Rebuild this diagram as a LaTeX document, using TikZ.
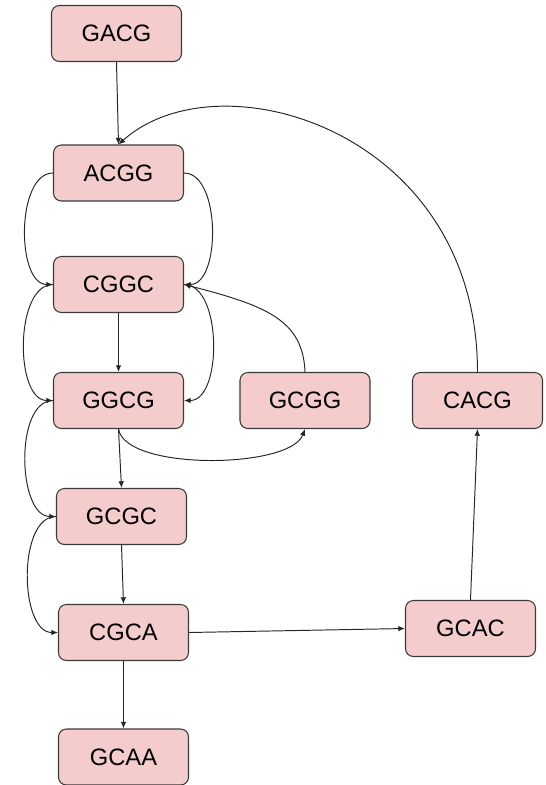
\documentclass[tikz,border=0pt]{standalone}
\usepackage{fontspec}
\setmainfont{Liberation Sans}
\usepackage{tikz}
\usetikzlibrary{arrows.meta}
\definecolor{boxfill}{HTML}{F4CCCC}
\definecolor{boxline}{HTML}{3A3A3A}

\begin{document}
\begin{tikzpicture}[
    kmer/.style={draw=boxline, fill=boxfill, line width=0.6pt, rounded corners=4.5pt,
      minimum width=2.6cm, minimum height=1.12cm, inner sep=0pt,
      font=\fontsize{13.5}{16}\selectfont},
    edge/.style={draw=black!85, line width=0.55pt, -{Latex[length=3.8pt,width=3.2pt]}},
    loop/.style={edge, looseness=0.85}]
  \useasboundingbox (0,0) rectangle (10.92,-15.70);
  \node[kmer] (gacg) at (2.33,-0.67) {GACG};
  \node[kmer] (acgg) at (2.37,-3.46) {ACGG};
  \node[kmer] (cggc) at (2.37,-5.69) {CGGC};
  \node[kmer] (ggcg) at (2.37,-8.01) {GGCG};
  \node[kmer] (gcgg) at (6.10,-8.01) {GCGG};
  \node[kmer] (cacg) at (9.55,-8.01) {CACG};
  \node[kmer] (gcgc) at (2.43,-10.33) {GCGC};
  \node[kmer] (cgca) at (2.47,-12.65) {CGCA};
  \node[kmer] (gcac) at (9.41,-12.57) {GCAC};
  \node[kmer] (gcaa) at (2.47,-15.14) {GCAA};

  \draw[edge] (gacg.south) -- (acgg.north);
  \draw[edge] (cacg.north) .. controls +(0,4.84) and +(2.0,1.8) .. (acgg.north);
  \draw[loop] (acgg.west) to[out=180,in=180] (cggc.west);
  \draw[loop] (acgg.east) to[out=0,in=0] (cggc.east);
  \draw[edge] (cggc.south) -- (ggcg.north);
  \draw[loop] (cggc.west) to[out=180,in=180] (ggcg.west);
  \draw[loop] (cggc.east) to[out=0,in=0] (ggcg.east);
  \draw[edge] (gcgg.north) .. controls +(-0.04,1.04) and +(1.64,-0.42) .. (cggc.east);
  \draw[edge] (ggcg.south) .. controls +(0.14,-0.84) and +(-0.3,-0.8) .. (gcgg.south);
  \draw[edge] (ggcg.south) -- (gcgc.north);
  \draw[loop] (ggcg.west) to[out=180,in=180] (gcgc.west);
  \draw[edge] (gcgc.south) -- (cgca.north);
  \draw[loop] (gcgc.west) to[out=180,in=180] (cgca.west);
  \draw[edge] (cgca.south) -- (gcaa.north);
  \draw[edge] (cgca.east) -- (gcac.west);
  \draw[edge] (gcac.north) -- (cacg.south);
\end{tikzpicture}
\end{document}
